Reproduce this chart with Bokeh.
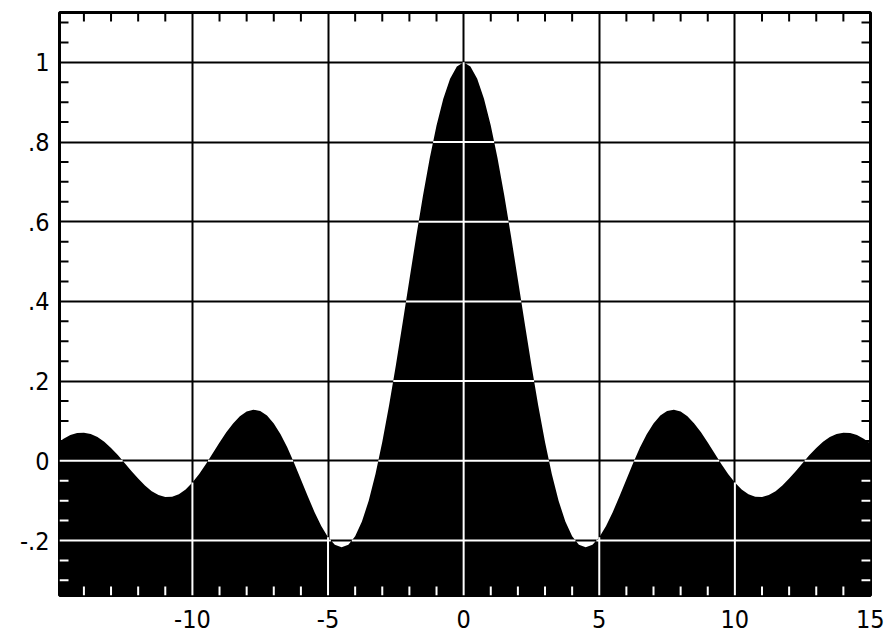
import numpy as np
from bokeh.plotting import figure
from bokeh.models import FixedTicker, Range1d
from bokeh.embed import file_html
from bokeh.resources import INLINE

# Curve samples
X = [-15.0, -14.75, -14.5, -14.25, -14.0, -13.75, -13.5, -13.25, -13.0, -12.75,
     -12.5, -12.25, -12.0, -11.75, -11.5, -11.25, -11.0, -10.75, -10.5, -10.25,
     -10.0, -9.75, -9.5, -9.25, -9.0, -8.75, -8.5, -8.25, -8.0, -7.75,
     -7.5, -7.25, -7.0, -6.75, -6.5, -6.25, -6.0, -5.75, -5.5, -5.25,
     -5.0, -4.75, -4.5, -4.25, -4.0, -3.75, -3.5, -3.25, -3.0, -2.75,
     -2.5, -2.25, -2.0, -1.75, -1.5, -1.25, -1.0, -0.75, -0.5, -0.25,
     0.0, 0.25, 0.5, 0.75, 1.0, 1.25, 1.5, 1.75, 2.0, 2.25,
     2.5, 2.75, 3.0, 3.25, 3.5, 3.75, 4.0, 4.25, 4.5, 4.75,
     5.0, 5.25, 5.5, 5.75, 6.0, 6.25, 6.5, 6.75, 7.0, 7.25,
     7.5, 7.75, 8.0, 8.25, 8.5, 8.75, 9.0, 9.25, 9.5, 9.75,
     10.0, 10.25, 10.5, 10.75, 11.0, 11.25, 11.5, 11.75, 12.0, 12.25,
     12.5, 12.75, 13.0, 13.25, 13.5, 13.75, 14.0, 14.25, 14.5, 14.75, 15.0]
Y = [0.0433, 0.0555, 0.0645, 0.0697, 0.0707, 0.0674, 0.0595, 0.0477, 0.0323, 0.0143,
     -0.0053, -0.0254, -0.0447, -0.0620, -0.0761, -0.0860, -0.0909, -0.0902, -0.0838, -0.0717,
     -0.0544, -0.0328, -0.0079, 0.0188, 0.0458, 0.0714, 0.0939, 0.1118, 0.1237, 0.1283,
     0.1251, 0.1135, 0.0939, 0.0667, 0.0331, -0.0053, -0.0466, -0.0884, -0.1283, -0.1636,
     -0.1918, -0.2104, -0.2172, -0.2106, -0.1892, -0.1524, -0.1002, -0.0333, 0.0470, 0.1388,
     0.2394, 0.3458, 0.4546, 0.5623, 0.6650, 0.7592, 0.8415, 0.9088, 0.9589, 0.9896,
     1.0, 0.9896, 0.9589, 0.9088, 0.8415, 0.7592, 0.6650, 0.5623, 0.4546, 0.3458,
     0.2394, 0.1388, 0.0470, -0.0333, -0.1002, -0.1524, -0.1892, -0.2106, -0.2172, -0.2104,
     -0.1918, -0.1636, -0.1283, -0.0884, -0.0466, -0.0053, 0.0331, 0.0667, 0.0939, 0.1135,
     0.1251, 0.1283, 0.1237, 0.1118, 0.0939, 0.0714, 0.0458, 0.0188, -0.0079, -0.0328,
     -0.0544, -0.0717, -0.0838, -0.0902, -0.0909, -0.0860, -0.0761, -0.0620, -0.0447, -0.0254,
     -0.0053, 0.0143, 0.0323, 0.0477, 0.0595, 0.0674, 0.0707, 0.0697, 0.0645, 0.0555, 0.0433]

X_LABEL_TICKS = [-10, -5, 0, 5, 10, 15]
X_LABELS = ["-10", "-5", "0", "5", "10", "15"]
X_GRID = [-10, -5, 0, 5, 10]
X_MINOR = [-14, -13, -12, -11, -9, -8, -7, -6, -4, -3, -2, -1,
           1, 2, 3, 4, 6, 7, 8, 9, 11, 12, 13, 14]
Y_LABEL_TICKS = [-0.2, 0.0, 0.2, 0.4, 0.6, 0.8, 1.0]
Y_LABELS = ["-.2", "0", ".2", ".4", ".6", ".8", "1"]
Y_MINOR = [-0.3, -0.25, -0.15, -0.1, -0.05, 0.05, 0.1, 0.15, 0.25, 0.3, 0.35,
           0.45, 0.5, 0.55, 0.65, 0.7, 0.75, 0.85, 0.9, 0.95, 1.05, 1.1]
X_START, X_END = -14.9, 15.0
Y_START, Y_END = -0.338, 1.125

FONT = "DejaVu Sans Condensed"

p = figure(width=884, height=637,
           x_range=Range1d(X_START, X_END), y_range=Range1d(Y_START, Y_END),
           output_backend="svg", toolbar_location=None,
           min_border_left=59, min_border_right=14, min_border_top=12, min_border_bottom=42)
p.background_fill_color = "white"
p.border_fill_color = "white"
p.outline_line_color = "black"
p.outline_line_width = 3

# axes (labels only)
p.xaxis.ticker = FixedTicker(ticks=X_LABEL_TICKS)
p.xaxis.major_label_overrides = {v: s for v, s in zip(X_LABEL_TICKS, X_LABELS)}
p.yaxis.ticker = FixedTicker(ticks=Y_LABEL_TICKS)
p.yaxis.major_label_overrides = {v: s for v, s in zip(Y_LABEL_TICKS, Y_LABELS)}
for ax in (p.xaxis[0], p.yaxis[0]):
    ax.axis_line_color = None
    ax.major_tick_line_color = None
    ax.minor_tick_line_color = None
    ax.major_tick_in = 0
    ax.major_tick_out = 0
    ax.major_label_text_font = FONT
    ax.major_label_text_font_size = "25px"
    ax.major_label_text_color = "black"
p.xaxis.major_label_standoff = 14
p.yaxis.major_label_standoff = 10

# grid (black, under the fill)
p.xgrid.ticker = FixedTicker(ticks=X_GRID)
p.ygrid.ticker = FixedTicker(ticks=Y_LABEL_TICKS)
for g in (p.xgrid[0], p.ygrid[0]):
    g.grid_line_color = "black"
    g.grid_line_width = 2
    g.grid_line_alpha = 1.0

# filled curve
p.varea(x=X, y1=Y_START - 1, y2=Y, fill_color="black")

# white grid lines where they pass over the fill
xf = np.linspace(X_START, X_END, 8000)
yf = np.interp(xf, X, Y)
sx0, sy0, sx1, sy1 = [], [], [], []
for c in Y_LABEL_TICKS:
    m = yf > c
    i = 0
    n = len(m)
    while i < n:
        if m[i]:
            j = i
            while j + 1 < n and m[j + 1]:
                j += 1
            sx0.append(xf[i]); sx1.append(xf[j]); sy0.append(c); sy1.append(c)
            i = j + 1
        else:
            i += 1
for c in X_GRID:
    sx0.append(c); sx1.append(c); sy0.append(Y_START); sy1.append(float(np.interp(c, X, Y)))
p.segment(x0=sx0, y0=sy0, x1=sx1, y1=sy1, line_color="white", line_width=2)

# minor ticks drawn inward from the frame
y_left = float(np.interp(X_START, X, Y))
y_right = float(np.interp(X_END, X, Y))
p.ray(x=X_MINOR, y=[Y_END] * len(X_MINOR), length=9, length_units="screen",
      angle=-np.pi / 2, line_color="black", line_width=2)
p.ray(x=X_MINOR, y=[Y_START] * len(X_MINOR), length=9, length_units="screen",
      angle=np.pi / 2, line_color="white", line_width=2)
p.ray(x=[X_START] * len(Y_MINOR), y=Y_MINOR, length=9, length_units="screen", angle=0,
      line_color=["white" if v < y_left else "black" for v in Y_MINOR], line_width=2)
p.ray(x=[X_END] * len(Y_MINOR), y=Y_MINOR, length=9, length_units="screen", angle=np.pi,
      line_color=["white" if v < y_right else "black" for v in Y_MINOR], line_width=2)

open("out.html", "w").write(file_html(p, INLINE))
